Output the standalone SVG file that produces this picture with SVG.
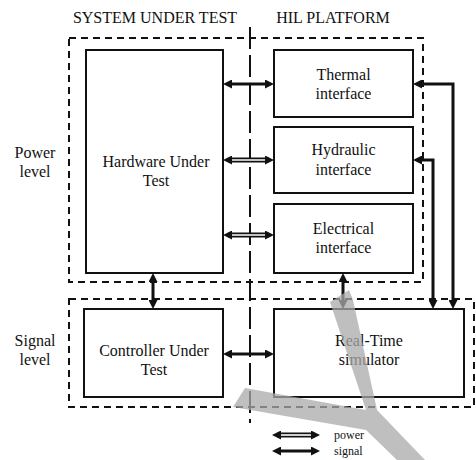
<svg xmlns="http://www.w3.org/2000/svg" width="476" height="460" viewBox="0 0 476 460">
<defs>
<style>
text{font-family:"Liberation Serif","Times New Roman",serif;fill:#111;text-anchor:middle}
.t{font-size:16px}
.lg{font-size:12px;text-anchor:start}
.box{fill:none;stroke:#111;stroke-width:2}
.dbox{fill:none;stroke:#111;stroke-width:2;stroke-dasharray:7 5}
.sig{fill:none;stroke:#111;stroke-width:3;marker-start:url(#ah);marker-end:url(#ah)}
.pow{fill:none;stroke:#111;stroke-width:5;marker-start:url(#ah);marker-end:url(#ah)}
.powin{fill:none;stroke:#fff;stroke-width:1.6}
</style>
<marker id="ah" viewBox="0 0 10 10" refX="4" refY="5" markerWidth="9" markerHeight="9" markerUnits="userSpaceOnUse" orient="auto-start-reverse">
<path d="M0,0 L10,5 L0,10 z" fill="#111"/>
</marker>
</defs>
<rect width="476" height="460" fill="#fff"/>

<g id="titles">
<text class="t" x="155" y="23">SYSTEM UNDER TEST</text>
<text class="t" x="333" y="23">HIL PLATFORM</text>
<text class="t" x="35" y="158">Power</text>
<text class="t" x="35" y="177">level</text>
<text class="t" x="35" y="346">Signal</text>
<text class="t" x="35" y="365">level</text>
</g>

<g id="regions">
<rect class="dbox" x="69" y="38" width="354" height="244"/>
<rect class="dbox" x="69" y="299" width="405" height="108"/>
<line x1="250" y1="27" x2="250" y2="423" stroke="#111" stroke-width="2" stroke-dasharray="22 6"/>
</g>

<g id="hw">
<rect class="box" x="86" y="50" width="137" height="223"/>
<text class="t" x="156" y="167">Hardware Under</text>
<text class="t" x="156" y="186">Test</text>
</g>
<g id="thermal">
<rect class="box" x="274" y="50" width="139" height="67"/>
<text class="t" x="343.5" y="80">Thermal</text>
<text class="t" x="343.5" y="99">interface</text>
</g>
<g id="hydraulic">
<rect class="box" x="274" y="127" width="139" height="66"/>
<text class="t" x="343.5" y="155">Hydraulic</text>
<text class="t" x="343.5" y="175">interface</text>
</g>
<g id="electrical">
<rect class="box" x="274" y="204" width="139" height="69"/>
<text class="t" x="343.5" y="234">Electrical</text>
<text class="t" x="343.5" y="253">interface</text>
</g>
<g id="controller">
<rect class="box" x="84" y="309" width="139" height="88"/>
<text class="t" x="154" y="356">Controller Under</text>
<text class="t" x="154" y="375">Test</text>
</g>
<g id="rts">
<rect class="box" x="274" y="309" width="190" height="88"/>
<text class="t" x="369" y="346">Real-Time</text>
<text class="t" x="369" y="365">simulator</text>
</g>

<g id="connectors">
<line class="sig" x1="228.4" y1="84" x2="268.6" y2="84"/>
<line class="pow" x1="228.4" y1="160" x2="268.6" y2="160"/>
<line class="powin" x1="232" y1="160" x2="265" y2="160"/>
<line class="pow" x1="228.4" y1="235" x2="268.6" y2="235"/>
<line class="powin" x1="232" y1="235" x2="265" y2="235"/>
<path class="sig" d="M418.4,84 H453 V303.6"/>
<path class="sig" d="M418.4,160 H433 V303.6"/>
<line class="sig" x1="343" y1="278.4" x2="343" y2="303.6"/>
<line class="sig" x1="153" y1="278.4" x2="153" y2="303.6"/>
<line class="sig" x1="228.4" y1="354" x2="268.6" y2="354"/>
</g>

<g id="legend">
<line class="pow" x1="277.4" y1="435" x2="314.6" y2="435"/>
<line class="powin" x1="281" y1="435" x2="311" y2="435"/>
<line class="sig" x1="277.4" y1="451" x2="314.6" y2="451"/>
<text class="lg" x="334" y="439">power</text>
<text class="lg" x="334" y="455">signal</text>
</g>

<path id="shade" d="M330,302 L349,290 L353,300 L377,410 L425,460 L397,460 L366,430 L233,407 L245,388 L366,410 Z" fill="#aaa" fill-opacity="0.75"/>
</svg>
